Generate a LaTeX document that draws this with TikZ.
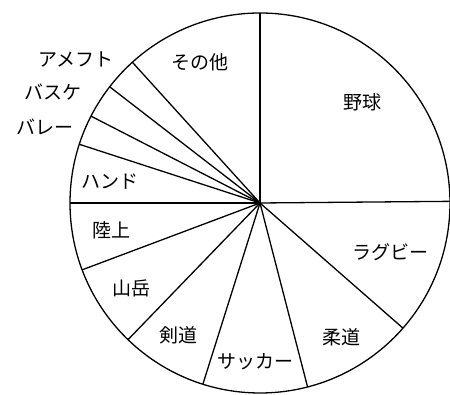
\documentclass[tikz,border=0pt]{standalone}
\usepackage{fontspec}
\usetikzlibrary{calc}
\newfontfamily\jpfont{Noto Sans CJK JP}
\begin{document}
\begin{tikzpicture}[x=1pt,y=1pt,
  edge/.style={line width=1.3pt,black},
  lbl/.style={font=\jpfont\fontsize{19}{19}\selectfont,inner sep=0pt}]
\useasboundingbox (0,0) rectangle (450,395);
\coordinate (c) at (260,192);
\draw[edge] (c) circle (190);
\foreach \a/\n in {90/a,0.5/b,-41.2/d,-75.5/e,-107.5/f,-134/g,-159.4/h,180/i,162/j,152.8/k,142.3/l,132.2/m}{
  \coordinate (p\n) at ($(c)+(\a:190)$);
}
\foreach \n in {a,b,d,e,f,g,h,i,j,k,l,m}{
  \draw[edge] (c) -- (p\n);
}
\node[lbl] (yakyu) at (362,293) {野球};
\node[lbl] (rugby) at (390,143) {ラグビー};
\node[lbl] (judo) at (341,58) {柔道};
\node[lbl] (soccer) at (255,33) {サッカー};
\node[lbl] (kendo) at (178,60) {剣道};
\node[lbl] (sangaku) at (131,107) {山岳};
\node[lbl] (rikujo) at (111,165) {陸上};
\node[lbl] (hand) at (110,213) {ハンド};
\node[lbl] (volley) at (45,268) {バレー};
\node[lbl] (basket) at (53,303) {バスケ};
\node[lbl] (amefuto) at (76,335) {アメフト};
\node[lbl] (sonota) at (200,333) {その他};
\end{tikzpicture}
\end{document}
